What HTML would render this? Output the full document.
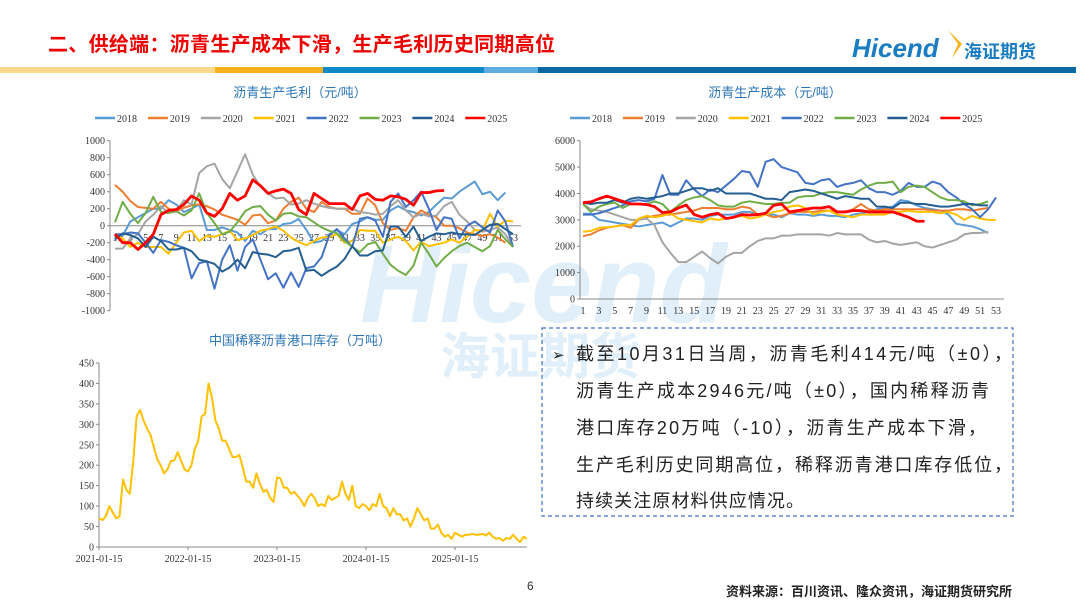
<!DOCTYPE html>
<html><head><meta charset="utf-8"><style>
html,body{margin:0;padding:0;background:#fff;}
svg{display:block;font-family:"Liberation Sans","Noto Sans CJK SC",sans-serif;}
.tk{font-family:"Liberation Serif","Noto Serif CJK SC",serif;font-size:10px;fill:#333;}
</style></head><body>
<svg id="s" width="1080" height="607" viewBox="0 0 1080 607" xmlns="http://www.w3.org/2000/svg">
<g>
<text x="48" y="51" font-size="20" fill="#e00" font-weight="bold" textLength="507" lengthAdjust="spacing">二、供给端：沥青生产成本下滑，生产毛利历史同期高位</text>
<text x="852" y="57" font-size="26" font-weight="bold" font-style="italic" fill="#1a7cc1">Hicend</text>
<path d="M948 30 L958 44 L952 58 L962 44 Z" fill="#f5b21a"/>
<text x="964" y="58" font-size="18" font-weight="bold" fill="#1a7cc1">海证期货</text>
<rect x="0" y="67" width="215" height="6" fill="#fbd98a"/>
<rect x="215" y="67" width="108" height="6" fill="#f5b21a"/>
<rect x="323" y="67" width="161" height="6" fill="#0e8ac7"/>
<rect x="484" y="67" width="54" height="6" fill="#5dade2"/>
<rect x="538" y="67" width="538" height="6" fill="#0a67a3"/>
</g>
<g opacity="0.35">
<text x="360" y="322" font-size="110" font-weight="bold" font-style="italic" fill="#a8d3ee">Hicend</text>
<text x="440" y="374" font-size="50" font-weight="bold" fill="#a8d3ee">海证期货</text>
</g>
<g id="c1"></g>
<g id="c2"></g>
<g id="c3"></g>
<g>
<rect x="542" y="328" width="471" height="188" fill="none" stroke="#4472c4" stroke-width="1.2" stroke-dasharray="4,3"/>
<text x="552" y="360" font-size="15" fill="#222">➢</text>
<g font-size="18" fill="#222">
<text x="576" y="360" textLength="436" lengthAdjust="spacing">截至10月31日当周，沥青毛利414元/吨（±0），</text>
<text x="576" y="397" textLength="413" lengthAdjust="spacing">沥青生产成本2946元/吨（±0），国内稀释沥青</text>
<text x="576" y="434" textLength="410" lengthAdjust="spacing">港口库存20万吨（-10），沥青生产成本下滑，</text>
<text x="576" y="471" textLength="436" lengthAdjust="spacing">生产毛利历史同期高位，稀释沥青港口库存低位，</text>
<text x="576" y="507" textLength="228" lengthAdjust="spacing">持续关注原材料供应情况。</text>
</g></g>
<text x="527" y="590" font-size="12" fill="#333">6</text>
<text x="1012" y="596" font-size="13" font-weight="bold" fill="#222" text-anchor="end">资料来源：百川资讯、隆众资讯，海证期货研究所</text>
</svg>
<script>
const years=['2018','2019','2020','2021','2022','2023','2024','2025'];
const colors=['#5b9bd5','#ed7d31','#a5a5a5','#ffc000','#4472c4','#70ad47','#255e91','#ff0000'];
const margin2018=[-150,-120,50,100,150,200,200,300,250,160,200,250,-50,-50,-20,-50,-80,-180,-60,-100,-40,-40,20,30,80,-50,-200,-180,-100,-50,-100,20,50,100,70,70,180,230,180,160,120,160,250,330,320,400,460,520,370,400,300,390];
const margin2019=[480,400,290,220,210,200,280,200,170,210,240,250,230,190,130,100,70,10,120,130,30,60,200,280,330,200,160,280,220,200,200,140,140,320,240,30,-50,-30,-60,100,180,130,100,0,0,-30,-80,-100,-120,-100,-140,-200];
const margin2020=[-270,-270,-150,-100,50,130,230,150,170,300,250,620,700,730,550,440,640,840,600,460,380,320,330,250,260,300,260,230,210,200,200,200,160,150,130,140,230,300,180,100,140,110,120,230,280,130,50,-50,-70,-50,-20,-100,-250];
const margin2021=[-100,-150,-250,-200,-250,-250,-250,-330,-200,-80,-60,-180,-120,-130,-100,-60,-170,-150,-110,-60,-40,-10,-60,-140,-190,-230,-180,-140,-130,-100,-200,-180,-50,-60,-60,-200,-160,-130,-180,-290,-190,-240,-220,-200,-160,-200,-130,-50,-60,140,-10,60,50];
const margin2022=[-100,-100,-80,-90,-200,-320,-170,-190,-230,-260,-620,-440,-420,-740,-400,-230,-530,-250,-160,-400,-630,-560,-730,-550,-720,-500,-480,-370,-110,-40,-150,-250,80,100,60,-130,280,380,220,300,400,200,-50,100,80,-150,0,50,-20,-80,180,50,-250];
const margin2023=[40,280,140,30,150,340,160,150,170,120,180,380,150,30,-100,-70,40,170,220,230,130,60,140,150,110,100,40,-20,-60,-90,-180,-250,-310,-220,-190,-330,-460,-530,-580,-470,-200,-330,-480,-380,-300,-240,-200,-250,-300,-240,-50,-160,-250];
const margin2024=[-160,-90,-110,-150,-250,-130,-180,-280,-280,-260,-300,-400,-420,-450,-540,-490,-400,-500,-310,-330,-340,-370,-300,-290,-260,-530,-520,-590,-530,-480,-390,-240,-350,-350,-300,-290,-10,-10,-130,-10,-180,-130,-90,-100,-80,-100,-100,-110,-50,10,20,-40,-100];
const margin2025=[-100,-200,-200,-280,-200,-100,130,180,190,250,350,300,150,110,200,380,300,350,540,470,380,410,430,380,190,130,380,320,260,260,260,190,350,380,310,300,350,340,310,240,390,390,410,414];
const cost2018=[3230,3230,3000,2950,2900,2850,2800,2750,2800,2850,2900,2750,2900,3050,3050,3000,3150,3200,3200,3200,3300,3300,3200,3200,3200,3100,3250,3200,3200,3150,3200,3150,3150,3100,3200,3250,3300,3400,3450,3500,3750,3700,3550,3450,3400,3350,3200,2850,2800,2750,2650,2500];
const cost2019=[2380,2450,2600,2700,2750,2800,2700,3000,3100,3150,3200,3200,3250,3300,3350,3450,3450,3450,3400,3400,3500,3450,3200,3200,3100,3150,3250,3300,3300,3300,3350,3350,3300,3300,3400,3600,3400,3350,3400,3400,3400,3400,3400,3400,3350,3350,3350,3400,3400,3350,3400,3450];
const cost2020=[3600,3400,3350,3300,3200,3100,3000,3000,3050,2800,2150,1750,1400,1400,1600,1800,1550,1350,1600,1750,1750,2000,2200,2300,2300,2400,2400,2450,2450,2450,2450,2400,2500,2450,2450,2450,2250,2150,2200,2100,2050,2100,2150,2000,1950,2050,2150,2250,2450,2500,2500,2550];
const cost2021=[2550,2580,2700,2720,2750,2800,2800,3050,3150,3100,3150,3250,3050,3000,2950,2900,3050,3000,3050,3100,3150,3050,3100,3200,3300,3350,3500,3550,3450,3200,3300,3350,3200,3150,3100,3200,3200,3200,3200,3300,3300,3350,3300,3300,3300,3250,3300,3200,3000,3150,3050,3000,3000];
const cost2022=[3200,3200,3250,3350,3450,3550,3700,3750,3700,3800,4700,3950,3950,4500,4150,3900,4150,4050,4300,4550,4850,4800,4250,5200,5300,5000,4900,4800,4400,4350,4500,4550,4250,4350,4400,4500,4200,4050,4050,3950,4100,4400,4250,4250,4450,4350,4050,3850,3600,3400,3100,3400,3850];
const cost2023=[3600,3300,3500,3600,3650,3450,3600,3600,3600,3700,3600,3300,3550,3750,3850,3900,3750,3550,3500,3500,3650,3700,3650,3600,3600,3650,3650,3850,3900,3900,4000,4050,4050,4000,3950,4150,4300,4400,4400,4450,4050,4250,4300,4250,4050,3850,3750,3750,3700,3550,3600,3700];
const cost2024=[3650,3600,3650,3650,3750,3650,3800,3850,3800,3850,3900,4000,4000,4100,4200,4200,4100,4200,4000,4000,4000,4000,3900,3800,3800,3750,4050,4100,4150,4100,4000,3900,3800,3900,3850,3800,3800,3500,3500,3450,3650,3650,3600,3600,3550,3500,3500,3550,3600,3600,3550,3550];
const cost2025=[3650,3680,3800,3900,3800,3700,3600,3600,3580,3500,3280,3300,3450,3560,3200,3100,3200,3250,3050,3100,3200,3180,3200,3250,3550,3600,3300,3350,3400,3450,3450,3500,3300,3300,3350,3350,3300,3300,3300,3300,3200,3100,2950,2946];
const marginTicks=[1000,800,600,400,200,0,-200,-400,-600,-800,-1000];
const costTicks=[6000,5000,4000,3000,2000,1000,0];
const invTicks=[450,400,350,300,250,200,150,100,50,0];
const invDates=['2021-01-15','2022-01-15','2023-01-15','2024-01-15','2025-01-15'];
const inventory=[70,66,75,100,85,70,75,165,140,130,210,320,335,310,290,275,245,215,200,180,190,210,212,232,210,190,185,200,240,260,320,325,400,365,310,290,260,260,240,220,220,225,195,160,160,145,180,155,135,140,120,110,170,168,145,145,130,135,125,115,100,120,130,120,100,105,100,125,115,120,125,160,130,115,150,100,95,105,100,90,105,100,130,100,95,75,95,80,80,65,70,50,70,95,80,65,70,45,45,55,35,25,30,20,35,30,25,30,30,32,30,30,32,28,35,25,20,22,15,22,20,30,20,12,25,20];

const NS='http://www.w3.org/2000/svg';
function mk(p,t,a){const e=document.createElementNS(NS,t);for(const k in a)e.setAttribute(k,a[k]);p.appendChild(e);return e;}
function txt(p,x,y,s,a){const e=mk(p,'text',Object.assign({x:x,y:y},a||{}));e.textContent=s;return e;}

function weekly(gid,title,titleX,series,ticks,ymin,ymax,x0,x1,yTop,yBot,axisX,xAxisY,xLabelY,legendX){
  const g=document.getElementById(gid);
  const xs=w=>x0+(w-1)*(x1-x0)/52;
  const ys=v=>yBot-(v-ymin)/(ymax-ymin)*(yBot-yTop);
  const t=txt(g,titleX,97,title,{'font-size':13,fill:'#2e75b6','text-anchor':'middle'});
  
  
  years.forEach((y,i)=>{
    const lx=legendX+i*52.9;
    const l=mk(g,'line',{x1:lx,y1:118,x2:lx+20,y2:118,stroke:colors[i],'stroke-width':2.5});
    
    
    const lt=txt(g,lx+22,122,y,{class:'tk'});
    
    
  });
  const ax=mk(g,'line',{x1:axisX,y1:yTop,x2:axisX,y2:yBot,stroke:'#888','stroke-width':1});
  
  
  ticks.forEach(v=>{
    mk(g,'line',{x1:axisX-3,y1:ys(v),x2:axisX,y2:ys(v),stroke:'#888'});
    const tt=txt(g,axisX-5,ys(v)+3.5,String(v),{class:'tk','text-anchor':'end'});
    
    
  });
  const xa=mk(g,'line',{x1:axisX,y1:xAxisY,x2:x1+8,y2:xAxisY,stroke:'#888'});
  
  
  for(let w=1;w<=53;w+=2){
    const tt=txt(g,xs(w),xLabelY,String(w),{class:'tk','text-anchor':'middle'});
    
    
  }
  series.forEach((d,i)=>{
    const p=mk(g,'polyline',{points:d.map((v,k)=>xs(k+1)+','+ys(v)).join(' '),fill:'none',stroke:colors[i],'stroke-width':i===7?2.8:2,'stroke-linejoin':'round'});
    
    
  });
}
weekly('c1','沥青生产毛利（元/吨）',300,[margin2018,margin2019,margin2020,margin2021,margin2022,margin2023,margin2024,margin2025],marginTicks,-1000,1000,115,513,140.7,310.7,110,225.7,241,95);
weekly('c2','沥青生产成本（元/吨）',775,[cost2018,cost2019,cost2020,cost2021,cost2022,cost2023,cost2024,cost2025],costTicks,0,6000,583,996,140.7,299,580,299,314,570);

(function(){
  const g=document.getElementById('c3');
  const yTop=363,yBot=547,axisX=99;
  const ys=v=>yBot-v/450*(yBot-yTop);
  const xs=i=>99+i*89/26;
  const t=txt(g,300,345,'中国稀释沥青港口库存（万吨）',{'font-size':13,fill:'#2e75b6','text-anchor':'middle'});
  
  
  const ax=mk(g,'line',{x1:axisX,y1:yTop,x2:axisX,y2:yBot,stroke:'#888'});
  
  
  invTicks.forEach(v=>{
    mk(g,'line',{x1:axisX-3,y1:ys(v),x2:axisX,y2:ys(v),stroke:'#888'});
    const tt=txt(g,axisX-5,ys(v)+3.5,String(v),{class:'tk','text-anchor':'end'});
    
    
  });
  const xa=mk(g,'line',{x1:axisX,y1:yBot,x2:527,y2:yBot,stroke:'#888'});
  
  
  invDates.forEach((d,i)=>{
    const x=99+i*89;
    mk(g,'line',{x1:x,y1:yBot,x2:x,y2:yBot+3,stroke:'#888'});
    const tt=txt(g,x,562,d,{class:'tk','text-anchor':'middle'});
    
    
  });
  const p=mk(g,'polyline',{points:inventory.map((v,i)=>xs(i)+','+ys(v)).join(' '),fill:'none',stroke:'#ffc000','stroke-width':2,'stroke-linejoin':'round'});
  
  
})();
</script>
</body></html>
